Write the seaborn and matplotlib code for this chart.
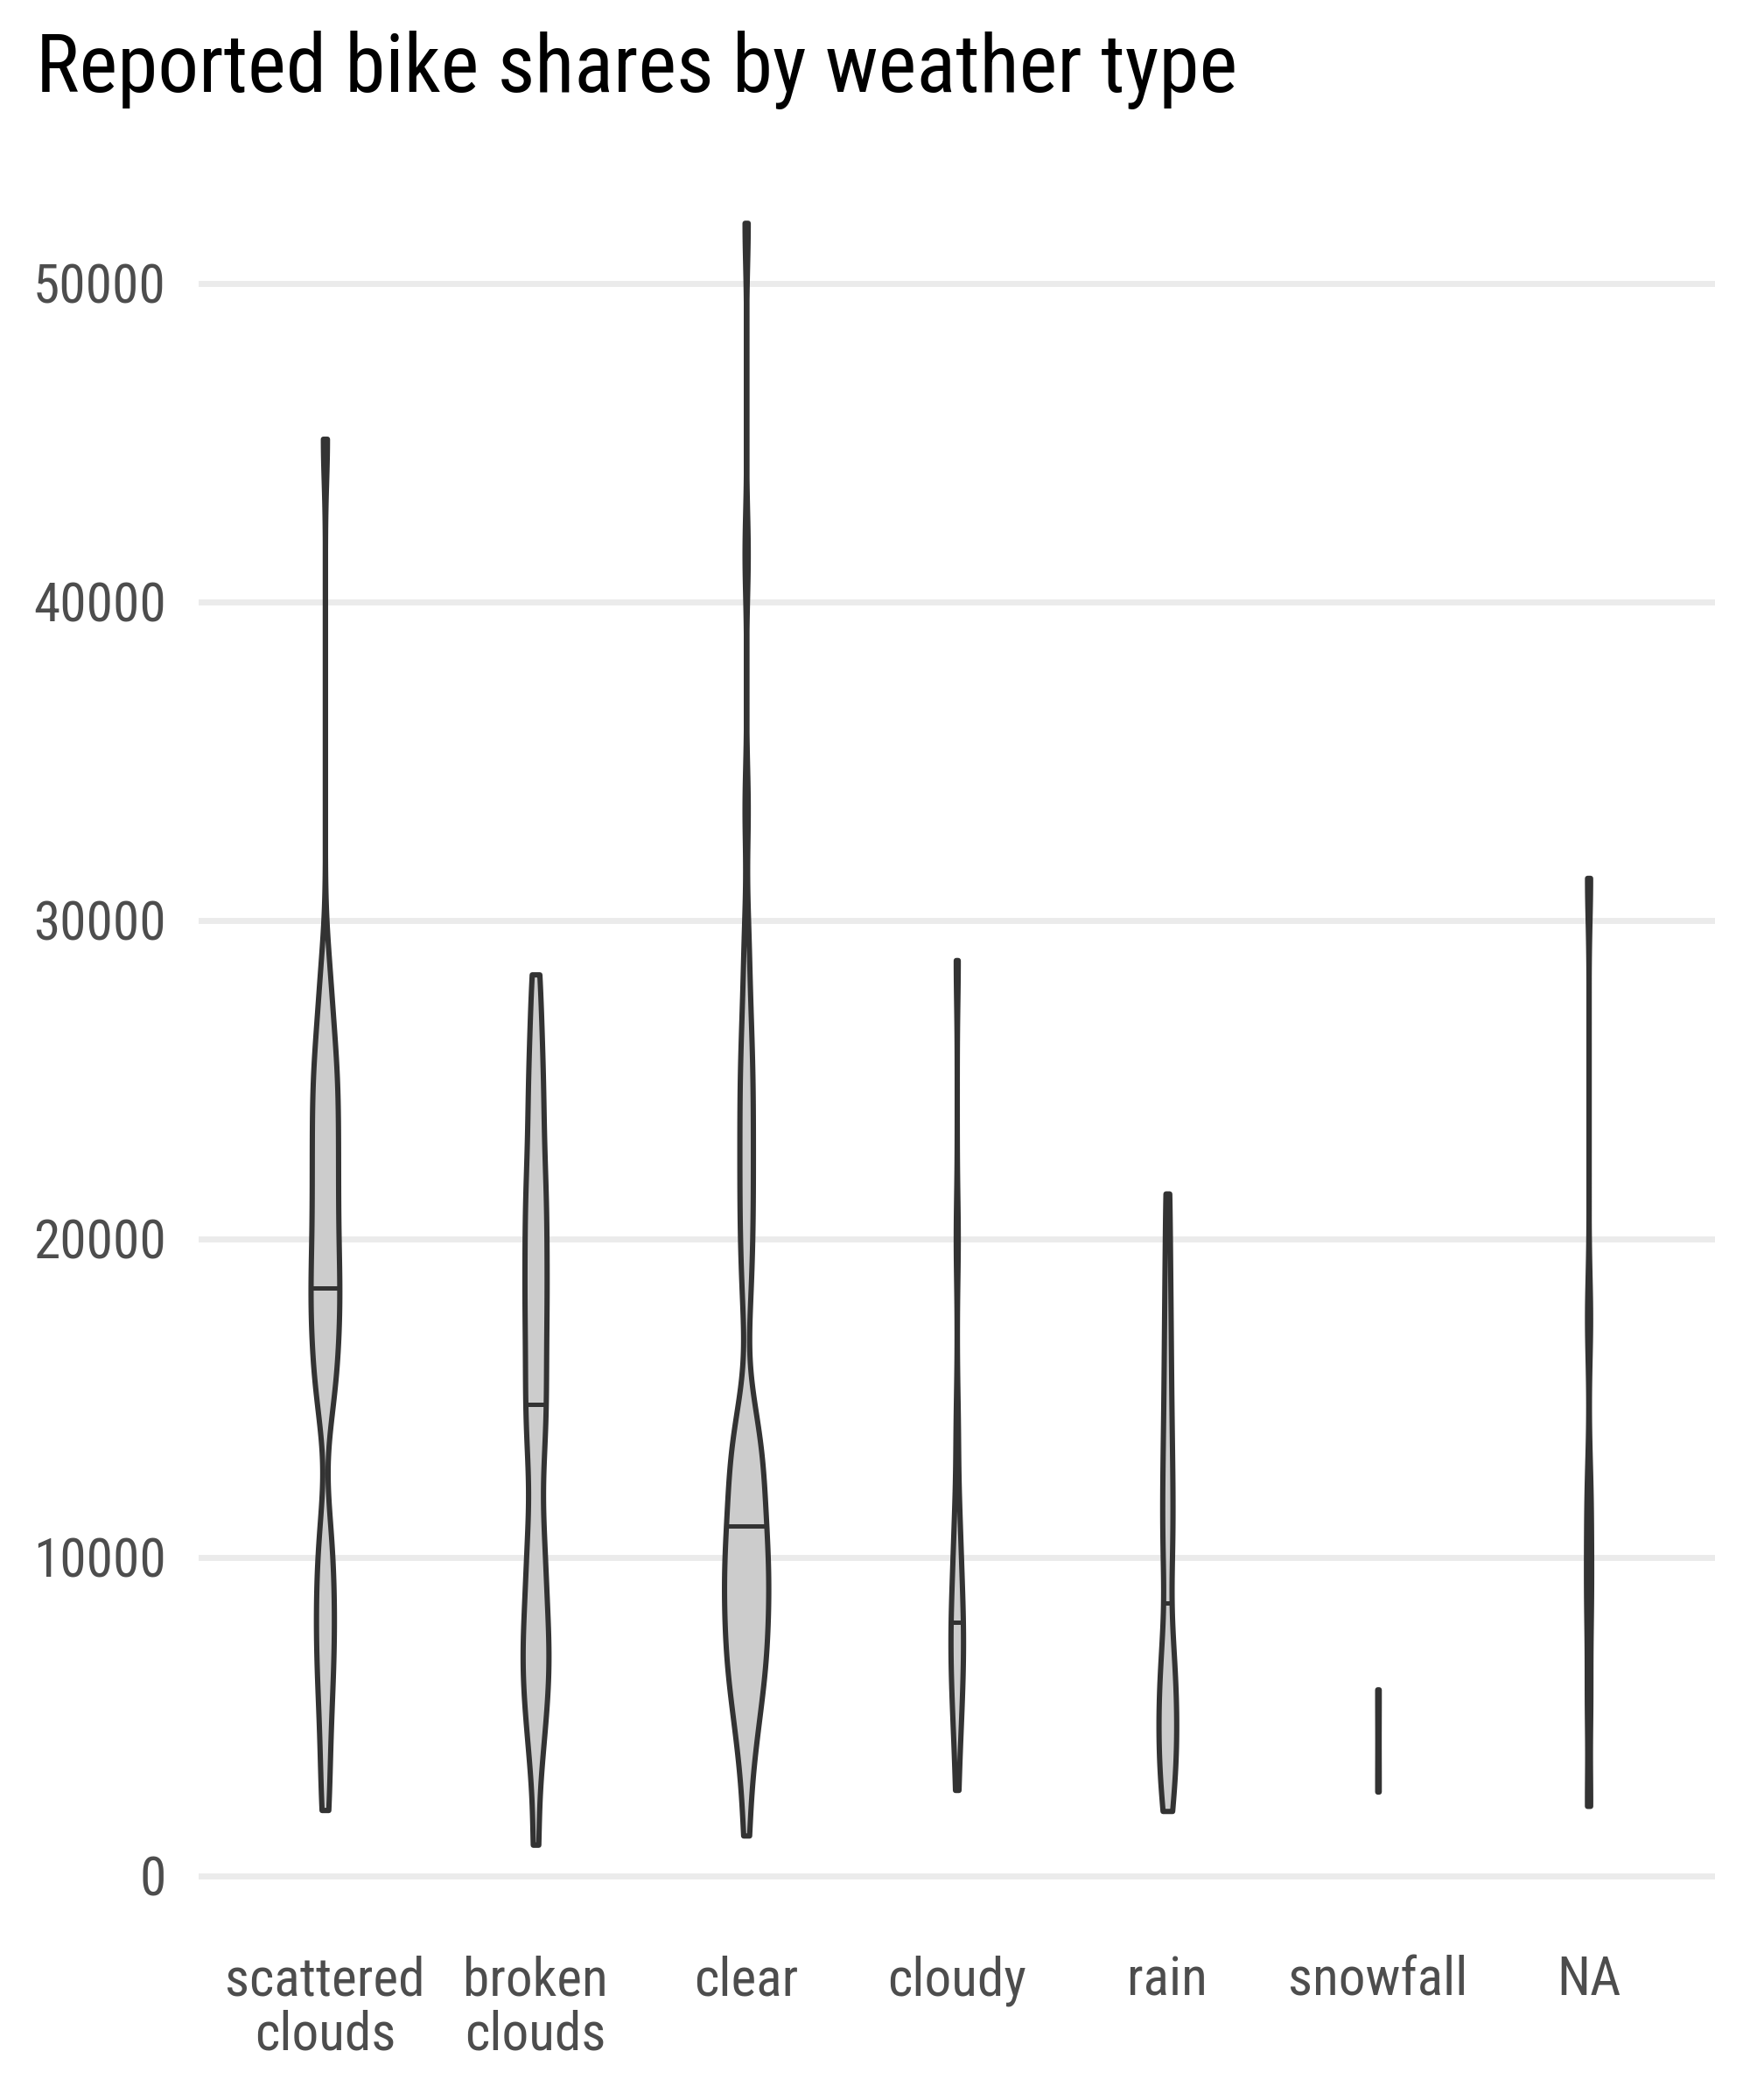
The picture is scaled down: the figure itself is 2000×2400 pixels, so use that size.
import numpy as np
import pandas as pd
import matplotlib
matplotlib.use("Agg")
import matplotlib.pyplot as plt
import matplotlib.font_manager as fm
import seaborn as sns

# ---------------- data ----------------
CATEGORIES = ["scattered clouds", "broken clouds", "clear", "cloudy", "rain", "snowfall", "NA"]
TICK_LABELS = ["scattered\nclouds", "broken\nclouds", "clear", "cloudy", "rain", "snowfall", "NA"]

SCATTERED_CLOUDS = [2060, 3500, 4800, 5800, 6600, 7300, 8000, 8700, 9400, 10200, 11100,
                    14500, 15150, 15750, 16250, 16700, 17200, 17700, 18150, 18450,
                    18900, 19400, 19900, 20400, 20900, 21400, 21900, 22400, 22900, 23400, 23900,
                    24400, 24900, 25400, 25900, 26600, 27500, 28600, 45120]
BROKEN_CLOUDS = [970, 3300, 4300, 5100, 5700, 6200, 6700, 7200, 7700, 8250,
                 9000, 9700, 10400, 11200, 12600, 13500, 14200, 14800,
                 15500, 16200, 16900, 17600, 18200, 18800, 19500, 20150, 20800, 21450, 22100,
                 23000, 23900, 24800, 25700, 26900, 28300]
CLEAR = [1260, 2600, 3700, 4150, 4600, 5050, 5450,
         5800, 6040, 6280, 6520, 6760, 7000, 7240, 7480, 7720, 7960, 8200,
         8420, 8640, 8860, 9080, 9300, 9520, 9740, 9960, 10180, 10400, 10620, 10880,
         11100, 11400, 11700, 12000, 12300,
         12550, 12800, 13050, 13350, 13650, 14000, 14400, 14900,
         17700, 18800,
         19700, 20450, 21200, 21950, 22700, 23450, 24200, 24950, 25700,
         26600, 27800, 29500, 33500, 41500, 51900]
CLOUDY = [2690, 4300, 5000, 5600, 6200, 6700, 7200, 7600, 7960,
          8500, 9100, 9800, 10600, 11600, 14000, 20000, 28750]
RAIN = [2030, 2600, 3150, 3650, 4100, 4550, 5000, 5450, 5900, 6400, 7000, 7700,
        9400, 10200, 11000, 11800, 12600, 13500, 14500, 15600, 16800, 18100, 19600, 21420]
SNOWFALL = [2640, 5850]
NOT_AVAILABLE = [2190, 5500, 8200, 10000, 12000, 17500, 31330]

SERIES = [SCATTERED_CLOUDS, BROKEN_CLOUDS, CLEAR, CLOUDY, RAIN, SNOWFALL, NOT_AVAILABLE]
Y_TICKS = [0, 10000, 20000, 30000, 40000, 50000]
TITLE = "Reported bike shares by weather type"

# ---------------- styling ----------------
BANDWIDTH = 1300  # kernel bandwidth in data units, same for every violin

available = {f.name for f in fm.fontManager.ttflist}
FONT = next((f for f in ["Roboto Condensed", "Roboto", "DejaVu Sans"] if f in available), "DejaVu Sans")
plt.rcParams["font.family"] = [FONT, "DejaVu Sans"]


def fixed_bw(kde):
    sd = np.std(np.asarray(kde.dataset).ravel(), ddof=1)
    return BANDWIDTH / sd


df = pd.DataFrame({
    "weather": np.repeat(CATEGORIES, [len(s) for s in SERIES]),
    "shares": np.concatenate([np.asarray(s, dtype=float) for s in SERIES]),
})

DPI = 300
fig = plt.figure(figsize=(2000 / DPI, 2400 / DPI), dpi=DPI)
fig.patch.set_facecolor("white")
ax = fig.add_axes([227 / 2000, 1 - 2201 / 2400, (1960 - 227) / 2000, (2201 - 162) / 2400])

sns.violinplot(data=df, x="weather", y="shares", order=CATEGORIES,
               density_norm="count", common_norm=True, cut=0, inner=None,
               bw_method=fixed_bw, width=0.21, gridsize=400,
               color="#CCCCCC", saturation=1, linecolor="#333333", linewidth=1.45,
               ax=ax)

# median lines drawn across each violin at its median
for i, vals in enumerate(SERIES):
    med = float(np.median(vals))
    hw = 0.0
    for coll in ax.collections:
        for p in coll.get_paths():
            v = p.vertices
            if len(v) < 4:
                continue
            if v[:, 0].min() - 1e-6 <= i <= v[:, 0].max() + 1e-6 and (v[:, 0].max() - v[:, 0].min()) < 0.9:
                right = v[v[:, 0] > i]
                if len(right) > 2:
                    order = np.argsort(right[:, 1])
                    hw = max(hw, np.interp(med, right[order, 1], right[order, 0]) - i)
    if hw > 0:
        ax.plot([i - hw, i + hw], [med, med], color="#333333", lw=1.2,
                solid_capstyle="butt", zorder=5)

allv = np.concatenate(SERIES)
lo, hi = allv.min(), allv.max()
pad = 0.05 * (hi - lo)
ax.set_ylim(lo - pad, hi + pad)
ax.set_xlim(-0.6, len(CATEGORIES) - 0.4)

ax.set_yticks(Y_TICKS)
ax.set_yticklabels([str(t) for t in Y_TICKS])
ax.set_xticks(range(len(CATEGORIES)))
ax.set_xticklabels(TICK_LABELS, linespacing=1.1)
ax.set_xlabel("")
ax.set_ylabel("")
ax.grid(axis="y", color="#EBEBEB", lw=1.65)
ax.grid(axis="x", visible=False)
ax.set_axisbelow(True)
for s in ax.spines.values():
    s.set_visible(False)
ax.tick_params(axis="both", length=0, labelsize=14.7, labelcolor="#4D4D4D")
ax.tick_params(axis="y", pad=8.9)
ax.tick_params(axis="x", pad=8)
ax.set_facecolor("white")

fig.text(41 / 2000, 1 - 105 / 2400, TITLE, fontsize=22.4, ha="left", va="baseline", color="black")

fig.savefig("out.png", dpi=DPI, facecolor="white")
